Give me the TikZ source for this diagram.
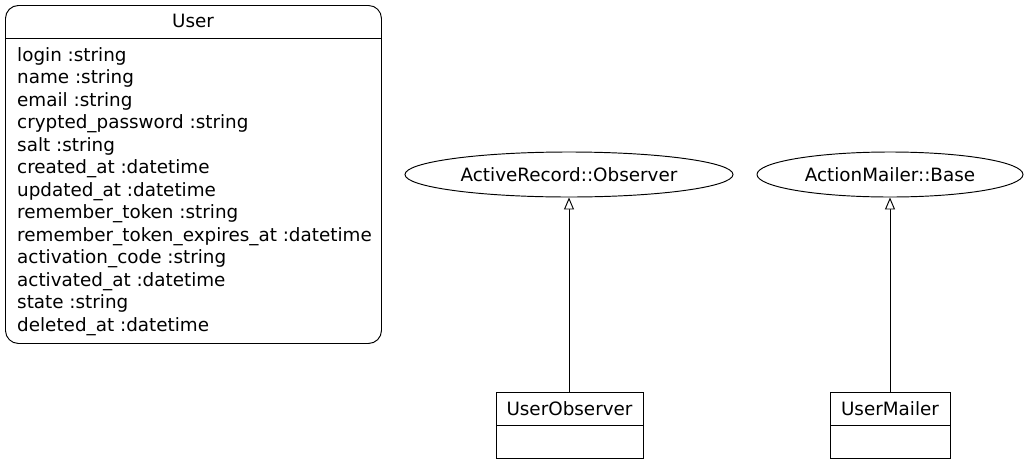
\documentclass[tikz,border=0pt]{standalone}
\usepackage{fontspec}
\setmainfont{DejaVu Sans}
\usetikzlibrary{arrows.meta,shapes.geometric}
\begin{document}
\begin{tikzpicture}[x=1pt,y=1pt,
  lbl/.style={font=\fontsize{18.35}{22.5}\selectfont, inner sep=0pt},
  classbox/.style={draw, line width=0.95pt, minimum width=#1, minimum height=66pt, inner sep=0pt, anchor=north west},
  superell/.style={draw, ellipse, line width=0.95pt, inner sep=0pt, font=\fontsize{18.35}{22.5}\selectfont},
  inherit/.style={line width=0.95pt, -{Triangle[open, width=10pt, length=12pt, fill=white]}}
]
\useasboundingbox (0,0) rectangle (1029,-464);
% User class
\node[draw, line width=0.95pt, rounded corners=13pt, minimum width=376pt, minimum height=338pt, anchor=north west, inner sep=0pt] (user) at (5,-5) {};
\coordinate (ul) at (5,-38);
\coordinate (ur) at (381,-38);
\draw[line width=0.95pt] (ul) -- (ur);
\node[lbl, anchor=base] (usertitle) at (193,-27) {User};
\foreach \t [count=\i] in {login :string,
name :string,
email :string,
crypted\_password :string,
salt :string,
created\_at :datetime,
updated\_at :datetime,
remember\_token :string,
remember\_token\_expires\_at :datetime,
activation\_code :string,
activated\_at :datetime,
state :string,
deleted\_at :datetime}
  \node[lbl, anchor=base west] (attr\i) at (17,{-61-22.5*(\i-1)}) {\t};
% superclasses
\node[superell, minimum width=328pt, minimum height=45pt] (aro) at (569,-174.5) {ActiveRecord::Observer};
\node[superell, minimum width=266pt, minimum height=45pt] (amb) at (890,-174.5) {ActionMailer::Base};
% UserObserver
\node[classbox=147pt] (uo) at (496,-392) {};
\draw[line width=0.95pt] (496,-425) -- (643,-425);
\node[lbl, anchor=base] (uotitle) at (569.5,-415) {UserObserver};
% UserMailer
\node[classbox=120pt] (um) at (830,-392) {};
\draw[line width=0.95pt] (830,-425) -- (950,-425);
\node[lbl, anchor=base] (umtitle) at (890,-415) {UserMailer};
% inheritance
\draw[inherit] (uo.north -| aro.south) -- (aro.south);
\draw[inherit] (um.north -| amb.south) -- (amb.south);
\end{tikzpicture}
\end{document}
